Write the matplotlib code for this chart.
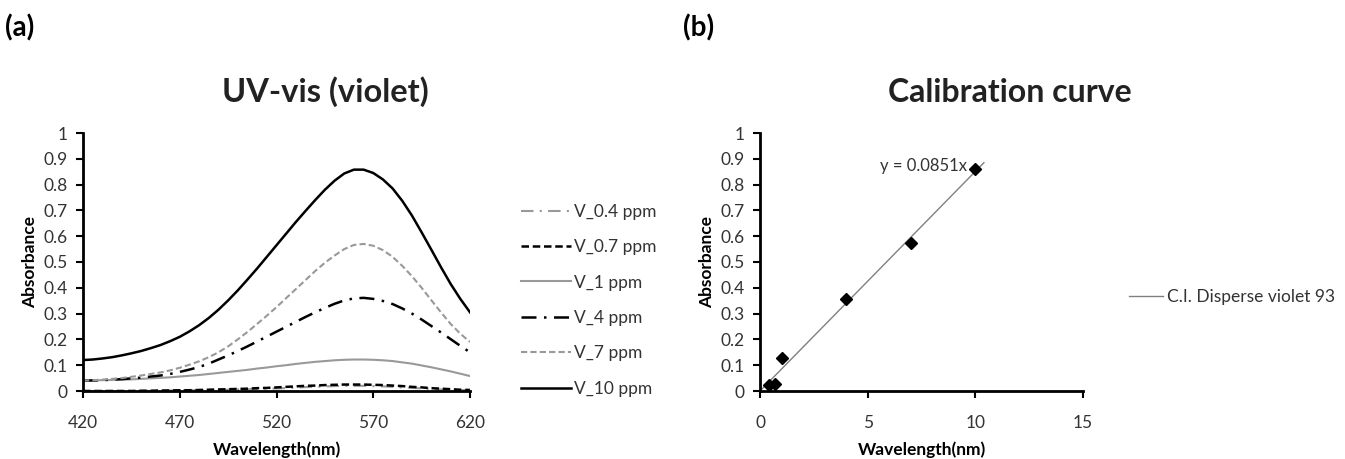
import matplotlib
matplotlib.use("Agg")
import matplotlib.pyplot as plt
import numpy as np

plt.rcParams['font.family'] = ['Lato', 'DejaVu Sans']

wavelength = list(range(420, 625, 5))
v_0_4 = [.000, .000, .000, .000, .000, .000, .000, .001, .001, .002, .002, .003, .003, .004,
         .004, .005, .006, .007, .008, .009, .010, .011, .013, .015, .016, .018, .019, .020,
         .020, .020, .019, .018, .016, .014, .012, .010, .008, .006, .005, .004, .003]
v_0_7 = [.000, .000, .000, .000, .000, .000, .001, .001, .002, .002, .003, .003, .004, .005,
         .006, .007, .008, .009, .011, .012, .014, .016, .018, .020, .021, .023, .024, .025,
         .025, .025, .024, .023, .021, .019, .016, .014, .011, .009, .007, .005, .004]
v_1 = [.040, .041, .042, .043, .044, .045, .047, .049, .051, .053, .056, .059, .062, .066,
       .070, .074, .078, .082, .087, .091, .096, .100, .105, .109, .113, .116, .119, .121,
       .122, .122, .121, .119, .116, .111, .106, .099, .092, .084, .076, .067, .058]
v_4 = [.040, .041, .042, .044, .046, .049, .052, .056, .060, .066, .074, .083, .093, .106,
       .122, .138, .155, .173, .192, .211, .230, .249, .268, .287, .305, .322, .338, .351,
       .359, .361, .357, .349, .337, .320, .300, .277, .252, .227, .201, .175, .150]
v_7 = [.040, .042, .044, .047, .050, .055, .060, .066, .072, .080, .090, .102, .115, .131,
       .150, .173, .200, .229, .260, .292, .325, .360, .395, .430, .465, .497, .525, .550,
       .566, .570, .563, .546, .520, .485, .445, .400, .352, .305, .260, .222, .190]
v_10 = [.120, .122, .126, .131, .138, .146, .155, .166, .178, .193, .210, .231, .255, .283,
        .315, .351, .390, .432, .475, .520, .565, .610, .655, .698, .740, .780, .815, .843,
        .858, .858, .845, .820, .785, .737, .680, .615, .548, .480, .415, .357, .305]

series_labels = ['V_0.4 ppm', 'V_0.7 ppm', 'V_1 ppm', 'V_4 ppm', 'V_7 ppm', 'V_10 ppm']

conc = [0.4, 0.7, 1, 4, 7, 10]
absorb = [0.022, 0.027, 0.127, 0.357, 0.573, 0.860]
slope = 0.0851

x_ticks_a = [420, 470, 520, 570, 620]
y_ticks = [0, 0.1, 0.2, 0.3, 0.4, 0.5, 0.6, 0.7, 0.8, 0.9, 1]
x_ticks_b = [0, 5, 10, 15]

W, H = 1345, 459
fig = plt.figure(figsize=(W / 100, H / 100), dpi=100)

def style_axes(ax):
    for s in ['top', 'right']:
        ax.spines[s].set_visible(False)
    for s in ['left', 'bottom']:
        ax.spines[s].set_linewidth(2.0)
        ax.spines[s].set_color('black')
    ax.tick_params(direction='out', length=5, width=1.5, labelsize=12.5,
                   labelcolor='#333333', color='black')
    ax.tick_params(axis='y', pad=6)
    ax.tick_params(axis='x', pad=12)
    ax.set_yticks(y_ticks)
    ax.set_yticklabels([f'{t:g}' for t in y_ticks])
    ax.set_ylim(0, 1)
    ax.set_ylabel('Absorbance', fontsize=12.5, fontweight='bold', labelpad=4)
    ax.set_xlabel('Wavelength(nm)', fontsize=12.5, fontweight='bold', labelpad=8)

axa = fig.add_axes([83 / W, (H - 391) / H, (470 - 83) / W, (391 - 133) / H])
styles = [
    dict(color='#999999', linestyle=(0, (6, 3, 1, 3)), lw=1.5),
    dict(color='black', linestyle=(0, (3, 1.5)), lw=1.8),
    dict(color='#999999', linestyle='-', lw=1.5),
    dict(color='black', linestyle=(0, (6, 3, 1, 3)), lw=1.8),
    dict(color='#999999', linestyle=(0, (3, 1.5)), lw=1.5),
    dict(color='black', linestyle='-', lw=1.8),
]
data = [v_0_4, v_0_7, v_1, v_4, v_7, v_10]
handles = []
for d, st, lab in zip(data, styles, series_labels):
    h, = axa.plot(wavelength, d, label=lab, **st)
    handles.append(h)
axa.set_xlim(420, 620)
axa.set_xticks(x_ticks_a)
style_axes(axa)

fig.legend(handles=handles, loc='upper left', bbox_to_anchor=(505 / W, 1 - 188 / H),
           frameon=False, fontsize=12.5, handlelength=2.9, labelspacing=1.12,
           handletextpad=0.15, labelcolor='#333333')

axb = fig.add_axes([760 / W, (H - 391) / H, (1083 - 760) / W, (391 - 133) / H])
xfit = np.array([0, 10.4])
fit_line, = axb.plot(xfit, slope * xfit, color='#808080', lw=1.0,
                     label='C.I. Disperse violet 93')
axb.plot(conc, absorb, 'D', color='black', markersize=6, clip_on=False, zorder=5)
axb.set_xlim(0, 15)
axb.set_xticks(x_ticks_b)
style_axes(axb)
axb.text(9.6, 0.872, f'y = {slope}x', ha='right', va='center', fontsize=12, color='#333333')

fig.legend(handles=[fit_line], loc='center left', bbox_to_anchor=(1113 / W, 1 - 297 / H),
           frameon=False, fontsize=12.5, handlelength=2.0, handletextpad=0.2,
           labelcolor='#333333')

fig.text(325 / W, 1 - 92 / H, 'UV-vis (violet)', ha='center', va='center',
         fontsize=23.5, fontweight='bold', color='#222222')
fig.text(1010 / W, 1 - 92 / H, 'Calibration curve', ha='center', va='center',
         fontsize=23, fontweight='bold', color='#222222')
fig.text(5 / W, 1 - 28 / H, '(a)', ha='left', va='center', fontsize=20, fontweight='bold')
fig.text(683 / W, 1 - 28 / H, '(b)', ha='left', va='center', fontsize=20, fontweight='bold')

fig.savefig('out.png', dpi=100)
